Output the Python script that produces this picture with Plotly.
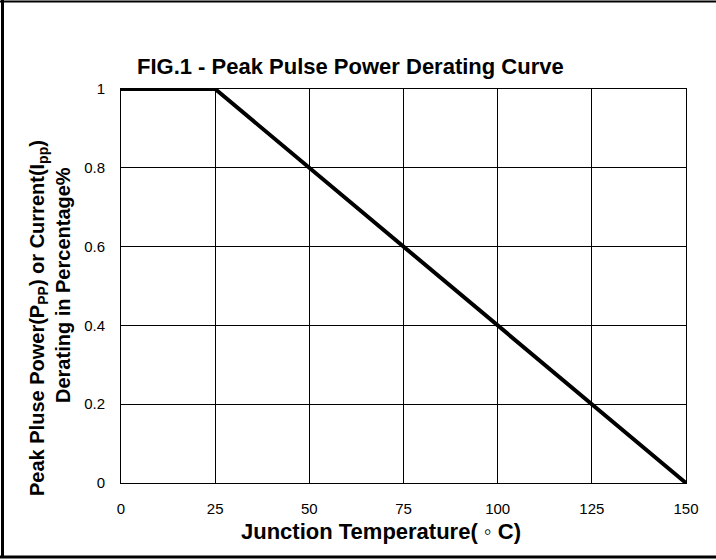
import plotly.graph_objects as go

# Data
temperature = [0, 25, 150]
derating = [1, 1, 0]
x_ticks = [0, 25, 50, 75, 100, 125, 150]
y_ticks = [0, 0.2, 0.4, 0.6, 0.8, 1]
y_tick_text = ["0", "0.2", "0.4", "0.6", "0.8", "1"]

W, H = 716, 560
L, R, T, B = 121, 686, 89, 483
pw, ph = R - L, B - T

def px(x):
    return (x - L) / pw

def py(y):
    return (B - y) / ph

fig = go.Figure()
fig.add_trace(go.Scatter(x=temperature, y=derating, mode="lines",
                         line=dict(color="black", width=4), showlegend=False,
                         cliponaxis=False))

font = "Liberation Sans, Arial, sans-serif"

fig.update_layout(
    width=W, height=H,
    margin=dict(l=L, r=W - R, t=T, b=H - B),
    paper_bgcolor="white", plot_bgcolor="white",
    font=dict(family=font, color="black", size=15),
    xaxis=dict(range=[0, 150], tickvals=x_ticks, showgrid=True, gridcolor="black",
               gridwidth=1, showline=True, linecolor="black", linewidth=1, mirror=True,
               zeroline=False, ticks="", ticklabelstandoff=12,
               tickfont=dict(size=15, family=font)),
    yaxis=dict(range=[0, 1], tickvals=y_ticks, ticktext=y_tick_text,
               showgrid=True, gridcolor="black",
               gridwidth=1, showline=True, linecolor="black", linewidth=1, mirror=True,
               zeroline=False, ticks="", ticklabelstandoff=12,
               tickfont=dict(size=15, family=font)),
)

annotations = [
    dict(text="<b>FIG.1 - Peak Pulse Power Derating Curve</b>", x=px(350), y=py(66),
         font=dict(size=22), textangle=0),
    dict(text="<b>Junction Temperature( ◦ C)</b>", x=px(381), y=py(531),
         font=dict(size=22), textangle=0),
    dict(text="<b>Peak Pluse Power(P<sub>PP</sub>) or Current(I<sub>pp</sub>)</b>",
         x=px(38), y=py(318), textangle=-90, font=dict(size=20)),
    dict(text="<b>Derating in Percentage%</b>",
         x=px(63), y=py(285), textangle=-90, font=dict(size=20)),
]
for a in annotations:
    fig.add_annotation(xref="paper", yref="paper", showarrow=False,
                       xanchor="center", yanchor="middle", **a)

# Outer frame (top, left, bottom)
fig.add_shape(type="line", xref="paper", yref="paper", x0=px(0), x1=px(716),
              y0=py(1.5), y1=py(1.5), line=dict(color="black", width=2))
fig.add_shape(type="line", xref="paper", yref="paper", x0=px(2.5), x1=px(2.5),
              y0=py(0), y1=py(558), line=dict(color="black", width=3))
fig.add_shape(type="line", xref="paper", yref="paper", x0=px(0), x1=px(716),
              y0=py(557), y1=py(557), line=dict(color="black", width=3))

fig.write_html("out.html", config={"displayModeBar": False},
               post_script="document.body.style.margin='0';")
